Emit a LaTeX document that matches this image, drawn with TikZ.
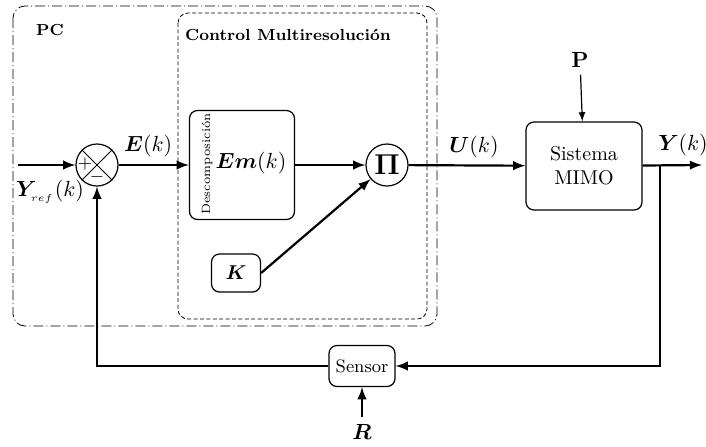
\documentclass[tikz,border=0pt]{standalone}
\usepackage{amsmath, amssymb}
\usepackage{bm}
\tikzset{
	bloque/.style={draw, semithick, rounded corners=4pt, align=center},
	sumador/.style={draw, semithick, circle, minimum size=21pt, inner sep=0pt},
	senal/.style={line width=1.1pt, -latex},
	etiq/.style={font=\fontsize{11}{13}\selectfont},
	marcopc/.style={rounded corners=6pt, dash pattern=on 5pt off 1.5pt on 0.5pt off 1.5pt},
	marcocm/.style={rounded corners=5pt, dash pattern=on 2pt off 1.2pt},
}

\begin{document}
\begin{tikzpicture}[x=0.5pt, y=-0.5pt]
		\useasboundingbox (0,0) rectangle (706,446);
		% recuadros
		\draw[marcopc] (13,6) rectangle (437,326);
		\draw[marcocm] (178,13) rectangle (427,319);
		\node[font=\footnotesize\bfseries] (pc) at (50,30) {PC};
		\node[font=\footnotesize\bfseries] (cmr) at (288,35) {Control Multiresolución};
		% bloques
		\node[sumador] (suma) at (97,165) {};
		\draw (suma.north west)--(suma.south east) (suma.north east)--(suma.south west);
		\node[font=\small, inner sep=0pt] (mas) at (85,164) {$+$};
		\node[font=\small, inner sep=0pt] (menos) at (97,177) {$-$};
		\node[bloque, minimum width=52.5pt, minimum height=54.5pt] (desc) at (242,165) {};
		\node[rotate=90, font=\fontsize{6}{7}\selectfont] (desctxt) at (207,164) {Descomposición};
		\node[etiq] (em) at (251,163) {$\bm{Em}(k)$};
		\node[sumador] (prod) at (387,165) {\Large$\bm{\Pi}$};
		\node[bloque, minimum width=24.5pt, minimum height=19pt] (k) at (236,273) {$\bm{K}$};
		\node[bloque, minimum width=58pt, minimum height=44pt] (planta) at (584,166) {Sistema\\MIMO};
		\node[bloque, minimum width=33pt, minimum height=20.5pt, inner sep=1pt, font=\small] (sensor) at (362,366) {Sensor};
		\node[etiq] (p) at (580,60) {$\mathbf{P}$};
		\node[etiq] (r) at (362,432) {$\bm{R}$};
		% senales
		\coordinate (ent) at (18,165);
		\coordinate (rama) at (660,165);
		\coordinate (sal) at (702,165);
		\draw[senal] (ent)--(suma);
		\node[etiq] (yref) at (50,192) {$\bm{Y}_{_{ref}}(k)$};
		\draw[senal] (suma)--(desc)node[etiq, pos=.42, above]{$\bm{E}(k)$};
		\draw[senal] (desc)--(prod);
		\draw[senal] (k.east)--(prod);
		\draw[senal] (prod)--(planta)node[etiq, pos=.56, above]{$\bm{U}(k)$};
		\draw[senal] (planta)--(sal);
		\node[etiq] (y) at (683,145) {$\bm{Y}(k)$};
		\draw[semithick, -latex] (p)--(planta);
		\draw[senal] (rama)|-(sensor);
		\draw[senal] (sensor)-|(suma);
		\draw[senal] (r)--(sensor);
	\end{tikzpicture}
\end{document}
